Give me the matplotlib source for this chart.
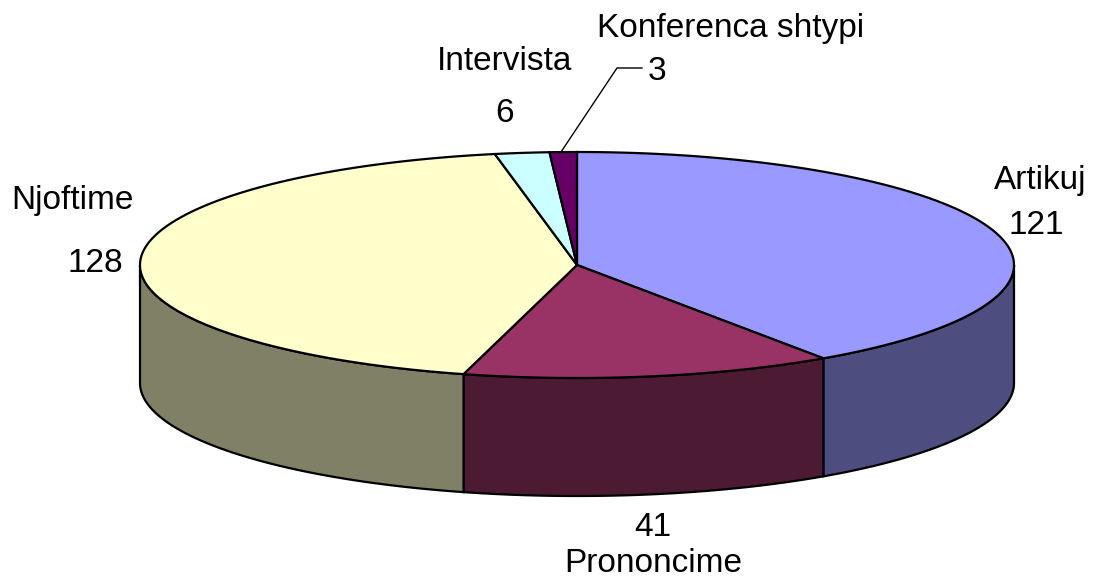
import numpy as np
import matplotlib
matplotlib.use('Agg')
import matplotlib.pyplot as plt
from matplotlib.patches import Polygon

labels = ['Artikuj', 'Prononcime', 'Njoftime', 'Intervista', 'Konferenca shtypi']
values = [121, 41, 128, 6, 3]
top_colors = ['#9999FF', '#993366', '#FFFFCC', '#CCFFFF', '#660066']
side_colors = ['#4D4D80', '#4D1A33', '#808066', '#668080', '#330033']

# pie geometry in image pixels
cx, cy = 577, 265
rx, ry = 437, 113
depth = 118


def rim(a0, a1):
    t = np.linspace(a0, a1, 200)
    return cx + rx * np.sin(t), cy - ry * np.cos(t)


plt.rcParams['font.family'] = ['Liberation Sans', 'DejaVu Sans']
fig = plt.figure(figsize=(10.93, 5.80), dpi=100)
ax = fig.add_axes([0, 0, 1, 1])
ax.set_xlim(0, 1093)
ax.set_ylim(580, 0)
ax.axis('off')

edges = np.concatenate(([0], np.cumsum(values))) / sum(values) * 2 * np.pi

# side walls, only the front half of the ellipse shows
for i in range(len(values)):
    a0 = max(edges[i], np.pi / 2)
    a1 = min(edges[i + 1], 3 * np.pi / 2)
    if a1 <= a0:
        continue
    x, y = rim(a0, a1)
    pts = np.vstack((np.column_stack((x, y)), np.column_stack((x, y + depth))[::-1]))
    ax.add_patch(Polygon(pts, closed=True, fc=side_colors[i], ec='black', lw=1.6))

# top face
for i in range(len(values)):
    x, y = rim(edges[i], edges[i + 1])
    pts = np.vstack(([[cx, cy]], np.column_stack((x, y))))
    ax.add_patch(Polygon(pts, closed=True, fc=top_colors[i], ec='black', lw=1.6))

fs = 24
ax.text(1040, 180, labels[0], fontsize=fs, ha='center', va='center')
ax.text(1036, 226, str(values[0]), fontsize=fs, ha='center', va='center')
ax.text(653, 528, str(values[1]), fontsize=fs, ha='center', va='center')
ax.text(653, 564, labels[1], fontsize=fs, ha='center', va='center')
ax.text(72, 200, labels[2], fontsize=fs, ha='center', va='center')
ax.text(95, 264, str(values[2]), fontsize=fs, ha='center', va='center')
ax.text(505, 61, labels[3], fontsize=fs, ha='center', va='center')
ax.text(505, 114, str(values[3]), fontsize=fs, ha='center', va='center')
ax.text(731, 28, labels[4], fontsize=fs, ha='center', va='center')
ax.text(657, 71, str(values[4]), fontsize=fs, ha='center', va='center')

# leader line for the small slice
ax.plot([561, 617, 642], [152, 68, 68], color='black', lw=1)

fig.savefig('out.png', dpi=100, facecolor='white')
